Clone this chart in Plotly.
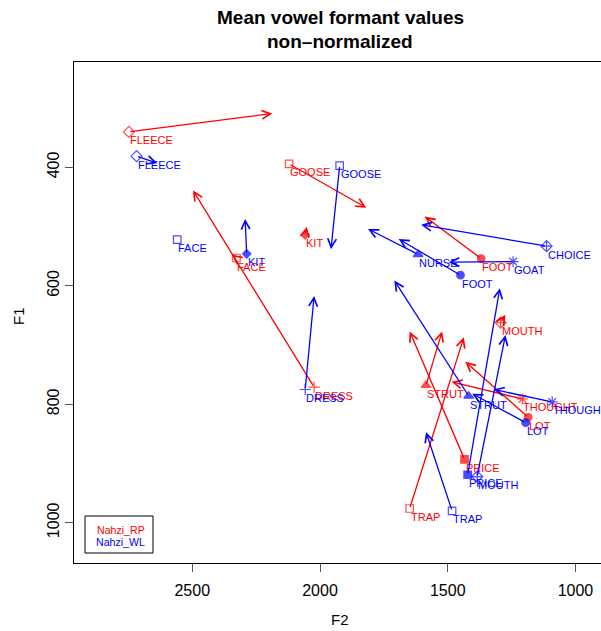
import plotly.graph_objects as go

# ---- data ----
rp_vowels = ["FLEECE", "GOOSE", "KIT", "FACE", "DRESS", "FOOT", "MOUTH",
             "STRUT", "THOUGHT", "LOT", "PRICE", "TRAP"]
rp_f2_start = [2748, 2121, 2058, 2327, 2023, 1369, 1293, 1585, 1208, 1185, 1434, 1649]
rp_f1_start = [340, 394, 514, 553, 771, 554, 662, 768, 791, 822, 893, 976]
rp_f2_end = [2187, 1819, 2052, 2345, 2497, 1590, 1274, 1522, 1485, 1431, 1649, 1437]
rp_f1_end = [309, 468, 500, 547, 439, 483, 649, 677, 762, 728, 677, 687]

wl_vowels = ["FLEECE", "GOOSE", "FACE", "KIT", "NURSE", "FOOT", "GOAT", "CHOICE",
             "DRESS", "STRUT", "THOUGHT", "LOT", "PRICE", "MOUTH", "TRAP"]
wl_f2_start = [2718, 1923, 2559, 2287, 1616, 1450, 1244, 1113, 2058, 1418, 1091, 1195, 1422, 1385, 1483]
wl_f1_start = [381, 397, 522, 546, 547, 582, 559, 533, 775, 786, 796, 831, 919, 922, 980]
wl_f2_end = [2637, 1957, 2571, 2293, 1812, 1692, 1496, 1604, 2023, 1709, 1320, 1404, 1296, 1274, 1585]
wl_f1_end = [393, 538, 517, 487, 504, 521, 560, 497, 617, 591, 775, 782, 604, 683, 847]

speakers = ["Nahzi_RP", "Nahzi_WL"]
x_ticks = [2500, 2000, 1500, 1000]
y_ticks = [400, 600, 800, 1000]

# ---- styles ----
colors = {"Nahzi_RP": "#FF0000", "Nahzi_WL": "#0000FF"}
symbols = {
    "FLEECE": ("diamond-open", 8.5), "KIT": ("diamond", 6.5), "FACE": ("square-open", 7.5),
    "DRESS": ("cross-thin-open", 8), "TRAP": ("square-open", 7.5), "STRUT": ("triangle-up", 8.5),
    "FOOT": ("circle", 7.5), "GOOSE": ("square-open", 7.5), "NURSE": ("triangle-up", 8.5),
    "GOAT": ("asterisk-open", 9), "THOUGHT": ("asterisk-open", 9), "LOT": ("circle", 7.5),
    "PRICE": ("square", 7.5), "CHOICE": ("diamond-cross-open", 8.5),
    "MOUTH": ("diamond-cross-open", 8.5),
}

FONT = "Liberation Sans, Arial, Helvetica, sans-serif"
W, H = 601, 631
L, R, T, B = 74, 0, 62, 68
x_range = [2963, 900]
y_range = [1068, 222]

fig = go.Figure()
annotations = []

sets = [
    ("Nahzi_RP", rp_vowels, rp_f2_start, rp_f1_start, rp_f2_end, rp_f1_end),
    ("Nahzi_WL", wl_vowels, wl_f2_start, wl_f1_start, wl_f2_end, wl_f1_end),
]
for spk, vow, xs, ys, xe, ye in sets:
    col = colors[spk]
    fig.add_trace(go.Scatter(
        x=xs, y=ys, mode="markers", name=spk, showlegend=False,
        marker=dict(symbol=[symbols[v][0] for v in vow],
                    size=[symbols[v][1] for v in vow],
                    color=col, line=dict(color=col, width=1.2)),
        hoverinfo="skip", cliponaxis=False,
    ))
    for v, x0, y0, x1, y1 in zip(vow, xs, ys, xe, ye):
        annotations.append(dict(
            x=x1, y=y1, ax=x0, ay=y0, xref="x", yref="y", axref="x", ayref="y",
            text="", showarrow=True, arrowhead=5, arrowsize=1.3, arrowwidth=1.3,
            arrowcolor=col, standoff=0, startstandoff=0,
        ))
        annotations.append(dict(
            x=x0, y=y0, xref="x", yref="y", text=v, showarrow=False,
            xanchor="left", yanchor="middle", xshift=-1, yshift=-8.5,
            font=dict(family=FONT, size=11, color=col),
        ))

pw = W - L - R
ph = H - T - B


def px2paper(px, py):
    return (px - L) / pw, (H - B - py) / ph


# legend box
lx0, ly0 = px2paper(85, 553)
lx1, ly1 = px2paper(153, 516)
shapes = [dict(type="rect", xref="paper", yref="paper", x0=lx0, y0=ly0, x1=lx1, y1=ly1,
               line=dict(color="black", width=1), fillcolor="white", layer="above")]
for i, spk in enumerate(speakers):
    tx, ty = px2paper(147, 529.5 + 12.3 * i)
    annotations.append(dict(x=tx, y=ty, xref="paper", yref="paper", text=spk, showarrow=False,
                            xanchor="right", yanchor="middle",
                            font=dict(family=FONT, size=10.6, color=colors[spk])))

# titles
for txt, py in [("<b>Mean vowel formant values</b>", 18), ("<b>non\u2013normalized</b>", 41)]:
    tx, ty = px2paper(340, py)
    annotations.append(dict(x=tx, y=ty, xref="paper", yref="paper", text=txt, showarrow=False,
                            xanchor="center", yanchor="middle",
                            font=dict(family=FONT, size=19, color="black")))
tx, ty = px2paper(340, 619)
annotations.append(dict(x=tx, y=ty, xref="paper", yref="paper", text="F2", showarrow=False,
                        xanchor="center", yanchor="middle",
                        font=dict(family=FONT, size=15, color="black")))
tx, ty = px2paper(18, 316)
annotations.append(dict(x=tx, y=ty, xref="paper", yref="paper", text="F1", showarrow=False,
                        xanchor="center", yanchor="middle", textangle=-90,
                        font=dict(family=FONT, size=15, color="black")))

fig.update_layout(
    width=W, height=H, autosize=False,
    margin=dict(l=L, r=R, t=T, b=B, pad=0),
    paper_bgcolor="white", plot_bgcolor="white",
    showlegend=False,
    annotations=annotations, shapes=shapes,
    xaxis=dict(range=x_range, tickvals=x_ticks, ticktext=[str(t) for t in x_ticks],
               showgrid=False, zeroline=False, showline=True, mirror=True,
               linecolor="black", linewidth=1.2, ticks="outside", ticklen=8,
               tickcolor="#555", tickwidth=1, ticklabelstandoff=5,
               tickfont=dict(family=FONT, size=16, color="black")),
    yaxis=dict(range=y_range, tickvals=y_ticks, ticktext=[str(t) for t in y_ticks],
               showgrid=False, zeroline=False, showline=True, mirror=False,
               linecolor="black", linewidth=1.2, ticks="outside", ticklen=7.5,
               tickcolor="#555", tickwidth=1, tickangle=-90,
               tickfont=dict(family=FONT, size=16, color="black")),
)

fig.write_html("out.html")
